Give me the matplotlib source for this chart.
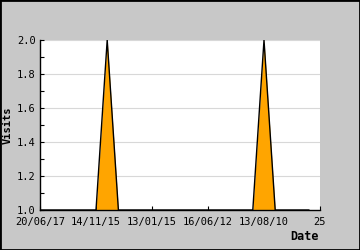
import matplotlib
matplotlib.use("Agg")
import matplotlib.pyplot as plt
from matplotlib.ticker import FixedLocator, FixedFormatter, MultipleLocator
from matplotlib.patches import Rectangle

# visits per day, index 0 is the newest date
visits = [1, 1, 1, 1, 1, 1, 2, 1, 1, 1, 1, 1, 1, 1, 1, 1, 1, 1, 1, 1, 2, 1, 1, 1, 1]
tick_pos = [0, 5, 10, 15, 20, 25]
tick_labels = ["20/06/17", "14/11/15", "13/01/15", "16/06/12", "13/08/10", "25"]

x = list(range(len(visits)))

fig = plt.figure(figsize=(3.6, 2.5), dpi=100, facecolor="#c8c8c8")
fig.patches.append(Rectangle((0, 0), 1, 1, transform=fig.transFigure, fill=False,
                             edgecolor="black", linewidth=2, zorder=10))
ax = fig.add_axes([40 / 360, 40 / 250, 280 / 360, 170 / 250])
ax.set_facecolor("white")

ax.fill_between(x, 1, visits, color="#ffa500", linewidth=0, zorder=2)
ax.plot(x, visits, color="black", linewidth=1, zorder=3)

ax.set_xlim(0, 25)
ax.set_ylim(1.0, 2.0)
ax.xaxis.set_major_locator(FixedLocator(tick_pos))
ax.xaxis.set_major_formatter(FixedFormatter(tick_labels))
ax.yaxis.set_major_locator(MultipleLocator(0.2))
ax.yaxis.set_minor_locator(MultipleLocator(0.1))
ax.yaxis.set_major_formatter(plt.FuncFormatter(lambda v, p: f"{v:.1f}"))

ax.grid(axis="y", color="#d8d8d8", linewidth=0.8, zorder=0)
ax.set_axisbelow(True)
for s in ["top", "right"]:
    ax.spines[s].set_visible(False)
ax.spines["left"].set_linewidth(1)
ax.spines["bottom"].set_linewidth(1)

mono = "DejaVu Sans Mono"
ax.tick_params(axis="both", which="both", direction="in", length=3, width=0.8,
               labelsize=7.5, pad=3)
ax.tick_params(axis="x", pad=5)
ax.tick_params(axis="y", which="minor", length=3)
for lab in ax.get_xticklabels() + ax.get_yticklabels():
    lab.set_family(mono)

fig.text(8 / 360, 125 / 250, "Visits", rotation=90, ha="center", va="center",
         family=mono, fontweight="bold", fontsize=7.5)
fig.text(319 / 360, 14 / 250, "Date", ha="right", va="center",
         family=mono, fontweight="bold", fontsize=8.5)

fig.savefig("out.png", dpi=100, facecolor=fig.get_facecolor())
